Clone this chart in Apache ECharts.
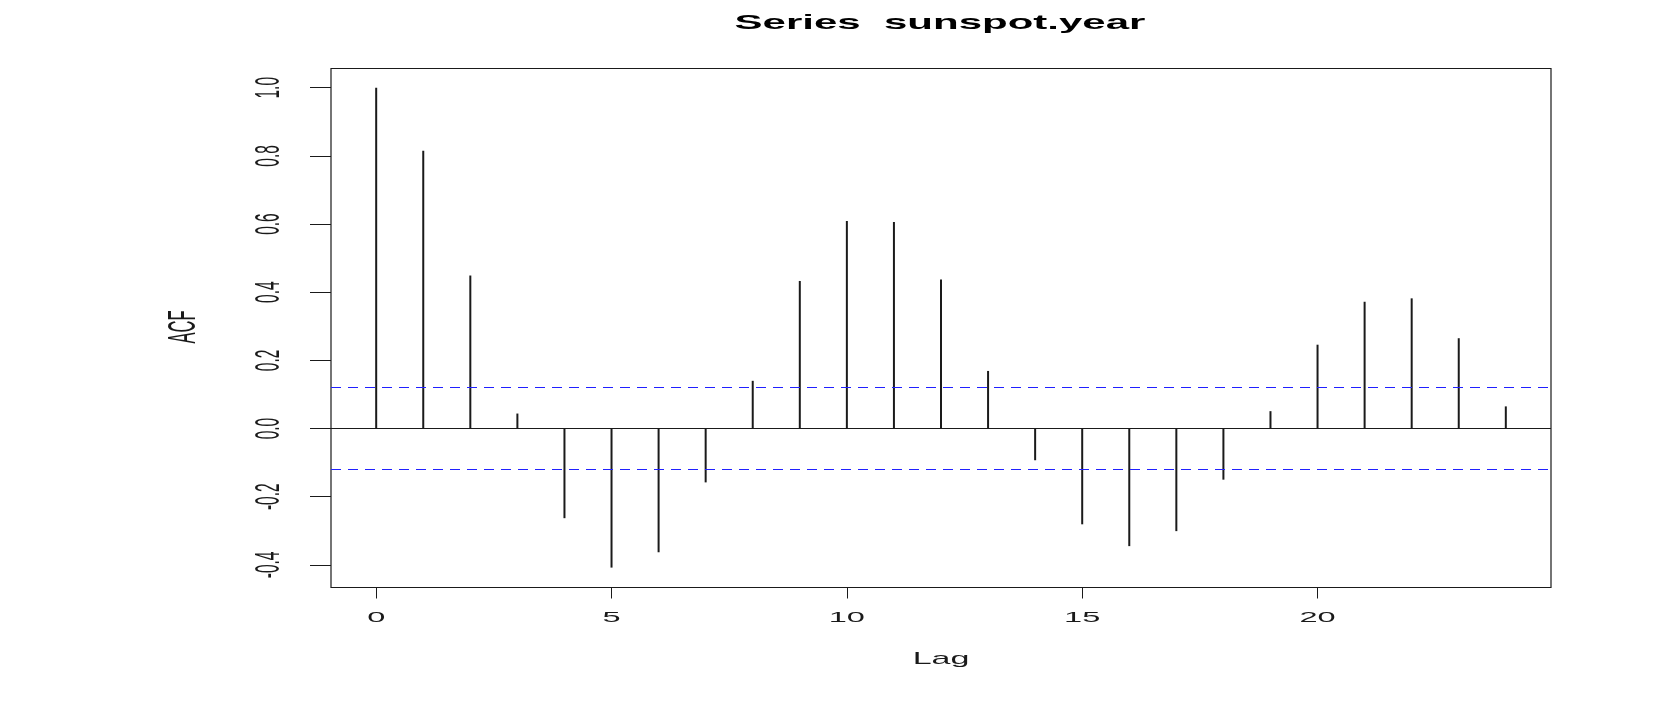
<!DOCTYPE html>
<html>
<head>
<meta charset="utf-8">
<title>Series sunspot.year</title>
<script src="https://cdn.jsdelivr.net/npm/echarts@6/dist/echarts.min.js"></script>
<style>
    html,body{margin:0;padding:0;background:#fff;}
    #acf-chart{width:1657px;height:716px;}
</style>
</head>
<body>
<div id="acf-chart"></div>
<script>
// 数据：滞后阶数与自相关系数
var lags = [0,1,2,3,4,5,6,7,8,9,10,11,12,13,14,15,16,17,18,19,20,21,22,23,24];
var acfValues = [1.0,0.815,0.449,0.044,-0.263,-0.408,-0.363,-0.158,0.140,0.433,
    0.609,0.606,0.437,0.169,-0.093,-0.281,-0.345,-0.301,-0.150,0.051,
    0.246,0.372,0.382,0.265,0.065];
var ciBound = 0.115;
var xTicks = [0,5,10,15,20];
var yTicks = [-0.4,-0.2,0.0,0.2,0.4,0.6,0.8,1.0];
var yTickLabels = ['-0.4','-0.2','0.0','0.2','0.4','0.6','0.8','1.0'];

var font = '"Liberation Sans", Arial, sans-serif';
var stretch = 2.1;   // 原图文字横向拉伸

var chart = echarts.init(document.getElementById('acf-chart'));
chart.setOption({
    animation:false,
    backgroundColor:'#fff',
    grid:{
        left:331, right:106, top:68.5, bottom:128.5,
        show:true, borderColor:'#1a1a1a', borderWidth:1.2
    },
    xAxis:{
        type:'value', min:-0.96, max:24.96,
        axisLine:{show:false, onZero:false},
        axisTick:{show:true, inside:false, length:11, customValues:xTicks,
            lineStyle:{color:'#1a1a1a', width:1}},
        axisLabel:{show:false},
        splitLine:{show:false}
    },
    yAxis:{
        type:'value', min:-0.4664, max:1.0564,
        axisLine:{show:false, onZero:false},
        axisTick:{show:true, inside:false, length:21, customValues:yTicks,
            lineStyle:{color:'#1a1a1a', width:1}},
        axisLabel:{show:false},
        splitLine:{show:false}
    },
    series:[{
        type:'bar',
        barWidth:2,
        itemStyle:{color:'#1a1a1a'},
        data:lags.map(function(l,i){ return [l, acfValues[i]]; }),
        markLine:{
            silent:true,
            symbol:'none',
            label:{show:false},
            data:[
                {yAxis:0, lineStyle:{color:'#1a1a1a', type:'solid', width:1}},
                {yAxis:ciBound, lineStyle:{color:'#2020ff', type:[10,7], width:1}},
                {yAxis:-ciBound, lineStyle:{color:'#2020ff', type:[10,7], width:1}}
            ]
        }
    }]
});

// 文字用 graphic 绘制，位置由坐标轴换算
function txt(x, y, text, size, opts){
    opts = opts || {};
    return {
        type:'text', x:x, y:y,
        rotation:opts.rotation || 0,
        scaleX:opts.scaleX || 1,
        scaleY:opts.scaleY || 1,
        style:{
            text:text, fill:opts.color || '#1a1a1a',
            font:(opts.bold ? 'bold ' : '') + size + 'px ' + font,
            align:'center', verticalAlign:'middle'
        }
    };
}
var labels = [];
xTicks.forEach(function(v){
    var p = chart.convertToPixel({gridIndex:0}, [v, 0]);
    labels.push(txt(p[0], 618, String(v), 15.5, {scaleX:stretch}));
});
yTicks.forEach(function(v, i){
    var p = chart.convertToPixel({gridIndex:0}, [0, v]);
    labels.push(txt(269, p[1], yTickLabels[i], 15.5, {rotation:Math.PI/2, scaleY:2.3}));
});
labels.push(txt(941, 659, 'Lag', 17, {scaleX:2.0}));
labels.push(txt(185, 327, 'ACF', 16.5, {rotation:Math.PI/2, scaleY:2.3}));
labels.push(txt(940, 23, 'Series  sunspot.year', 21, {bold:true, color:'#000', scaleX:2.0}));
chart.setOption({graphic:labels});
</script>
</body>
</html>
